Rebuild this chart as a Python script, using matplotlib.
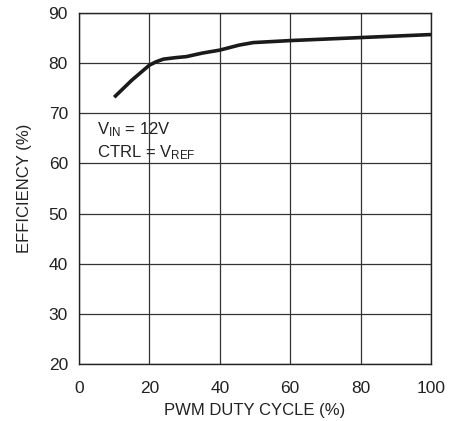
import matplotlib
matplotlib.use('Agg')
import matplotlib.pyplot as plt

# Кривая КПД
duty = [10, 15, 20, 22, 24, 27.5, 30.5, 35, 40, 45.5, 49.5, 60, 70, 80, 90, 100]
efficiency = [73.2, 76.6, 79.6, 80.3, 80.8, 81.1, 81.3, 82.0, 82.6, 83.6, 84.1, 84.5, 84.8, 85.1, 85.4, 85.7]

x_ticks = [0, 20, 40, 60, 80, 100]
y_ticks = [20, 30, 40, 50, 60, 70, 80, 90]

plt.rcParams['font.family'] = ['Liberation Sans', 'DejaVu Sans']
plt.rcParams['mathtext.fontset'] = 'custom'
plt.rcParams['mathtext.rm'] = 'Liberation Sans'

fig = plt.figure(figsize=(4.5, 4.21), dpi=100)
ax = fig.add_axes([79 / 450, 1 - 364 / 421, 352 / 450, 351 / 421])

ax.plot(duty, efficiency, color='#1a1a1a', linewidth=2.6, solid_capstyle='butt')

ax.set_xlim(0, 100)
ax.set_ylim(20, 90)
ax.set_xticks(x_ticks)
ax.set_yticks(y_ticks)
ax.tick_params(axis='x', length=0, labelsize=12.5, pad=12, colors='#222222')
ax.tick_params(axis='y', length=0, labelsize=12.5, pad=8, colors='#222222')
ax.grid(True, color='#333333', linewidth=0.9)
for s in ax.spines.values():
    s.set_linewidth(1.0)
    s.set_color('#222222')

ax.set_xlabel('PWM DUTY CYCLE (%)', fontsize=12, labelpad=5, color='#222222')
ax.set_ylabel('EFFICIENCY (%)', fontsize=12, labelpad=12, color='#222222')

ax.text(5, 65.8, r'V$\mathregular{_{IN}}$ = 12V', fontsize=12, color='#222222')
ax.text(5, 61.3, r'CTRL = V$\mathregular{_{REF}}$', fontsize=12, color='#222222')

fig.savefig('out.png', dpi=100)
